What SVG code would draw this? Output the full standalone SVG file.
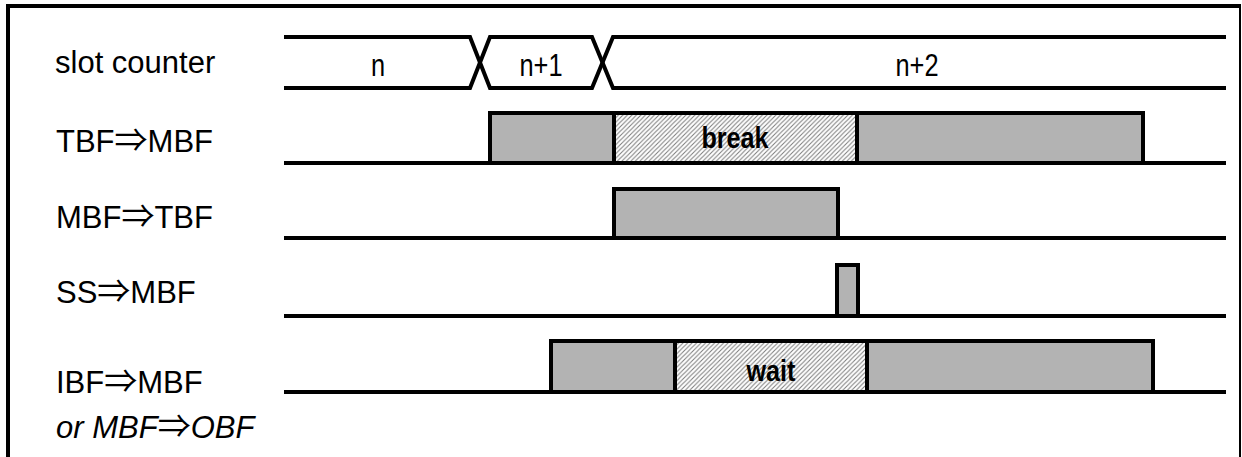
<svg xmlns="http://www.w3.org/2000/svg" width="1242" height="457" viewBox="0 0 1242 457">
<defs>
<pattern id="hatch" patternUnits="userSpaceOnUse" width="4.5" height="4.5">
<rect width="4.5" height="4.5" fill="#ffffff"/>
<path d="M-1,1 L1,-1 M0,4.5 L4.5,0 M3.5,5.5 L5.5,3.5" stroke="#7a7a7a" stroke-width="1"/>
</pattern>
<style>
.lbl{font-family:"Liberation Sans",Arial,sans-serif;font-size:31px;fill:#000}
.ar{font-family:"Noto Sans CJK JP","DejaVu Sans",sans-serif;font-size:33px;font-style:normal}
.ital{font-style:italic}
.cnt{font-family:"Liberation Sans",Arial,sans-serif;font-size:31px;fill:#000;text-anchor:middle}
.bt{font-family:"Liberation Sans",Arial,sans-serif;font-weight:bold;font-size:30px;fill:#000;text-anchor:middle}
.ln{stroke:#000;stroke-width:4;fill:none;stroke-linejoin:miter}
.box{fill:#b3b3b3;stroke:#000;stroke-width:4}
.hb{fill:url(#hatch);stroke:#000;stroke-width:4}
</style>
</defs>
<rect width="1242" height="457" fill="#fff"/>
<g id="frame">
<line x1="6" y1="6" x2="1241" y2="6" stroke="#000" stroke-width="4"/>
<line x1="8" y1="4" x2="8" y2="457" stroke="#000" stroke-width="4"/>
<line x1="1240" y1="6" x2="1240" y2="457" stroke="#000" stroke-width="2"/>
</g>
<g id="labels">
<text class="lbl" x="55" y="73">slot counter</text>
<text class="lbl" x="56" y="152">TBF<tspan class="ar">⇒</tspan>MBF</text>
<text class="lbl" x="56" y="228">MBF<tspan class="ar">⇒</tspan>TBF</text>
<text class="lbl" x="56" y="303">SS<tspan class="ar">⇒</tspan>MBF</text>
<text class="lbl" x="56" y="393">IBF<tspan class="ar">⇒</tspan>MBF</text>
<text class="lbl ital" x="56" y="438">or MBF<tspan class="ar">⇒</tspan>OBF</text>
</g>
<g id="slot-counter">
<path class="ln" d="M284,37 H470 L490,88 H592 L613,37 H1226"/>
<path class="ln" d="M284,88 H470 L490,37 H592 L613,88 H1226"/>
<text class="cnt" transform="translate(378,76) scale(0.82,1)">n</text>
<text class="cnt" transform="translate(541,76) scale(0.82,1)">n+1</text>
<text class="cnt" transform="translate(917,76) scale(0.82,1)">n+2</text>
</g>
<g id="tbf-mbf">
<rect class="box" x="490" y="113" width="124" height="50"/>
<rect class="hb" x="614" y="113" width="243" height="50"/>
<rect class="box" x="857" y="113" width="286" height="50"/>
<line class="ln" x1="284" y1="163" x2="1226" y2="163"/>
<text class="bt" transform="translate(735,148) scale(0.84,1)">break</text>
</g>
<g id="mbf-tbf">
<rect class="box" x="614" y="189" width="224" height="49"/>
<line class="ln" x1="284" y1="238" x2="1226" y2="238"/>
</g>
<g id="ss-mbf">
<rect class="box" x="837" y="265" width="21" height="51"/>
<line class="ln" x1="284" y1="316" x2="1226" y2="316"/>
</g>
<g id="ibf-mbf">
<rect class="box" x="551" y="341" width="124" height="51"/>
<rect class="hb" x="675" y="341" width="192" height="51"/>
<rect class="box" x="867" y="341" width="286" height="51"/>
<line class="ln" x1="284" y1="392" x2="1226" y2="392"/>
<text class="bt" transform="translate(771,381) scale(0.84,1)">wait</text>
</g>
</svg>
